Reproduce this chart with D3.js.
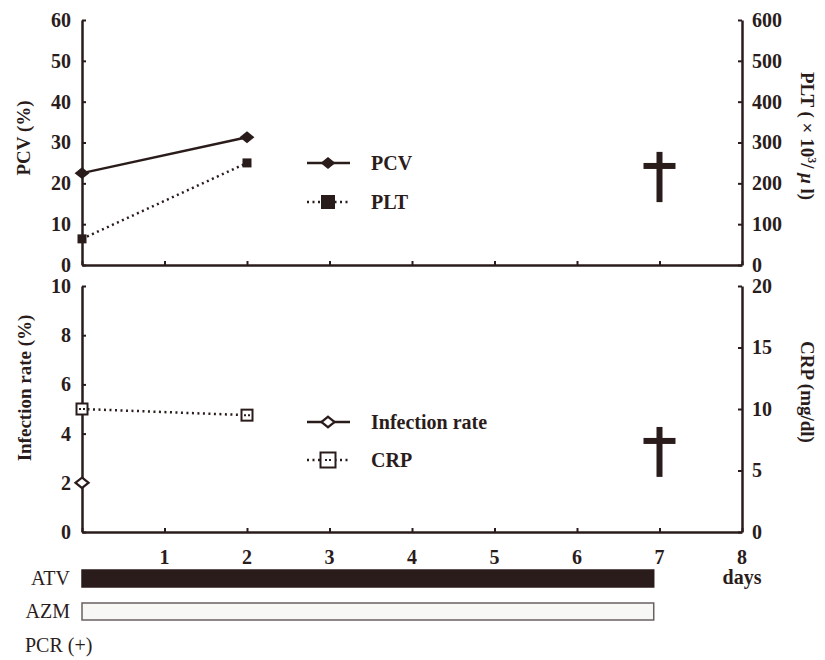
<!DOCTYPE html>
<html>
<head>
<meta charset="utf-8">
<script src="https://cdn.jsdelivr.net/npm/d3@7"></script>
<style>
  body { margin: 0; background: #fff; }
  svg text { font-family: "Liberation Serif", Tinos, "Times New Roman", Times, "DejaVu Serif", serif; font-weight: bold; fill: #2b1c1c; }
</style>
</head>
<body>
<div id="chart"></div>
<script>
// Data
const days = [0, 2];
const pcv = [22.5, 31.3];
const plt = [64, 250];
const infectionDays = [0];
const infectionRate = [2];
const crp = [10, 9.5];
const deathDay = 7;
const dayTicks = [1, 2, 3, 4, 5, 6, 7, 8];
const treatments = ['ATV', 'AZM'];
const treatmentEnd = [6.93, 6.93];

const ink = '#2b1c1c';
const serif = '"Liberation Serif", Tinos, "Times New Roman", Times, "DejaVu Serif", serif';
const width = 825;
const height = 660;

const svg = d3.select('#chart')
  .append('svg')
    .attr('width', width)
    .attr('height', height)
    .attr('font-family', serif);

svg.append('rect').attr('width', width).attr('height', height).attr('fill', '#fff');

// X scale shared by both panels
const x = d3.scaleLinear().domain([0, 8]).range([82, 742]);

// Y scales
const yPcv = d3.scaleLinear().domain([0, 60]).range([265, 20]);
const yPlt = d3.scaleLinear().domain([0, 600]).range([265, 20]);
const yInf = d3.scaleLinear().domain([0, 10]).range([532, 286]);
const yCrp = d3.scaleLinear().domain([0, 20]).range([532, 286]);

function styleAxis(g) {
  g.attr('font-family', serif);
  g.select('.domain').attr('stroke', ink).attr('stroke-width', 2.5);
  g.selectAll('.tick line').attr('stroke', ink).attr('stroke-width', 2);
  g.selectAll('.tick text').attr('font-size', 20).attr('fill', ink);
}

function drawPanel(yLeft, yRight, leftTicks, rightTicks, bottomY) {
  // Bottom axis
  svg.append('g')
    .attr('transform', 'translate(0,' + bottomY + ')')
    .call(d3.axisBottom(x).tickValues(d3.range(0, 9)).tickSizeInner(-4).tickSizeOuter(0).tickFormat(''))
    .call(styleAxis);

  // Left axis
  svg.append('g')
    .attr('transform', 'translate(' + x(0) + ',0)')
    .call(d3.axisLeft(yLeft).tickValues(leftTicks).tickSizeInner(-4).tickSizeOuter(0).tickPadding(11))
    .call(styleAxis);

  // Right axis
  svg.append('g')
    .attr('transform', 'translate(' + x(8) + ',0)')
    .call(d3.axisRight(yRight).tickValues(rightTicks).tickSizeInner(-4).tickSizeOuter(0).tickPadding(10))
    .call(styleAxis);
}

drawPanel(yPcv, yPlt, d3.range(0, 61, 10), d3.range(0, 601, 100), 265);
drawPanel(yInf, yCrp, d3.range(0, 11, 2), d3.range(0, 21, 5), 532);

// Axis titles
function vTitle(tx, ty, rot, build) {
  const t = svg.append('text')
    .attr('transform', 'translate(' + tx + ',' + ty + ') rotate(' + rot + ')')
    .attr('text-anchor', 'middle')
    .attr('font-size', 19);
  build(t);
}
vTitle(30, 138, -90, t => t.text('PCV (%)'));
vTitle(31, 388, -90, t => t.text('Infection rate (%)'));
vTitle(801, 136, 90, t => {
  t.append('tspan').text('PLT ( × 10');
  t.append('tspan').attr('font-size', 12).attr('dy', -7).text('3');
  t.append('tspan').attr('dy', 7).text('/ ');
  t.append('tspan').attr('font-style', 'italic').text('μ');
  t.append('tspan').text(' l)');
});
vTitle(801, 392, 90, t => t.text('CRP (mg/dl)'));

// Line generator
const line = (xs, ys, yScale) => d3.line()
  .x((d, i) => x(xs[i]))
  .y((d) => yScale(d))(ys);

// PCV line
svg.append('path')
  .attr('d', line(days, pcv, yPcv))
  .attr('fill', 'none').attr('stroke', ink).attr('stroke-width', 2.5);

// PLT line
svg.append('path')
  .attr('d', line(days, plt, yPlt))
  .attr('fill', 'none').attr('stroke', ink).attr('stroke-width', 2.5)
  .attr('stroke-dasharray', '2,3.5');

// CRP line
svg.append('path')
  .attr('d', line(days, crp, yCrp))
  .attr('fill', 'none').attr('stroke', ink).attr('stroke-width', 2.5)
  .attr('stroke-dasharray', '2,3.5');

// Markers
const diamond = d3.symbol().type(d3.symbolDiamond2).size(90);

function filledDiamond(cx, cy) {
  svg.append('path').attr('d', diamond())
    .attr('transform', 'translate(' + cx + ',' + cy + ') scale(1.25,1)')
    .attr('fill', ink);
}
function openDiamond(cx, cy) {
  svg.append('path').attr('d', d3.symbol().type(d3.symbolDiamond2).size(70)())
    .attr('transform', 'translate(' + cx + ',' + cy + ') scale(1.25,1)')
    .attr('fill', '#fff').attr('stroke', ink).attr('stroke-width', 2);
}
function filledSquare(cx, cy, s) {
  svg.append('rect').attr('x', cx - s / 2).attr('y', cy - s / 2)
    .attr('width', s).attr('height', s).attr('fill', ink);
}
function openSquare(cx, cy, s) {
  svg.append('rect').attr('x', cx - s / 2).attr('y', cy - s / 2)
    .attr('width', s).attr('height', s)
    .attr('fill', '#fff').attr('stroke', ink).attr('stroke-width', 2);
  svg.append('line').attr('x1', cx - 3).attr('x2', cx + 3).attr('y1', cy).attr('y2', cy)
    .attr('stroke', ink).attr('stroke-width', 2).attr('stroke-dasharray', '2,2');
}

days.forEach((d, i) => filledDiamond(x(d), yPcv(pcv[i])));
days.forEach((d, i) => filledSquare(x(d), yPlt(plt[i]), 9));
infectionDays.forEach((d, i) => openDiamond(x(d), yInf(infectionRate[i])));
days.forEach((d, i) => openSquare(x(d), yCrp(crp[i]), 11));

// Legends
function legendRow(ly, label, dashed, marker) {
  svg.append('line')
    .attr('x1', 307).attr('x2', 350).attr('y1', ly).attr('y2', ly)
    .attr('stroke', ink).attr('stroke-width', 2.5)
    .attr('stroke-dasharray', dashed ? '2,3.5' : null);
  marker(328, ly);
  svg.append('text').attr('x', 371).attr('y', ly + 7)
    .attr('font-size', 20).text(label);
}
legendRow(163, 'PCV', false, filledDiamond);
legendRow(202, 'PLT', true, (cx, cy) => filledSquare(cx, cy, 14));
legendRow(422, 'Infection rate', false, openDiamond);
legendRow(460, 'CRP', true, (cx, cy) => openSquare(cx, cy, 15));

// Death marks (dagger)
function dagger(cx, yTop, yBot) {
  const barY = yTop + (yBot - yTop) * 0.28;
  svg.append('rect').attr('x', cx - 3).attr('y', yTop).attr('width', 6).attr('height', yBot - yTop).attr('fill', ink);
  svg.append('rect').attr('x', cx - 16).attr('y', barY - 3).attr('width', 32).attr('height', 6).attr('fill', ink);
}
dagger(x(deathDay), yPcv(27.7), yPcv(15.4));
dagger(x(deathDay), yInf(4.27), yInf(2.24));

// Day labels under the bottom panel
svg.selectAll('.dayLabel')
  .data(dayTicks)
  .enter().append('text')
    .attr('x', (d) => x(d))
    .attr('y', 564)
    .attr('text-anchor', 'middle')
    .attr('font-size', 20)
    .text((d) => d);
svg.append('text').attr('x', x(8)).attr('y', 584)
  .attr('text-anchor', 'middle').attr('font-size', 20).text('days');

// Treatment bars
const barY = [570, 603];
treatments.forEach((name, i) => {
  svg.append('rect')
    .attr('x', x(0)).attr('y', barY[i])
    .attr('width', x(treatmentEnd[i]) - x(0)).attr('height', 17)
    .attr('fill', i === 0 ? ink : '#f7f7f5')
    .attr('stroke', i === 0 ? ink : '#6a6060').attr('stroke-width', 1.5);
  svg.append('text').attr('x', 70).attr('y', barY[i] + 15)
    .attr('text-anchor', 'end').attr('font-size', 20)
    .style('font-weight', 'normal').text(name);
});

svg.append('text').attr('x', 25).attr('y', 652).attr('font-size', 20)
  .style('font-weight', 'normal')
  .text('PCR (+)');
</script>
</body>
</html>
